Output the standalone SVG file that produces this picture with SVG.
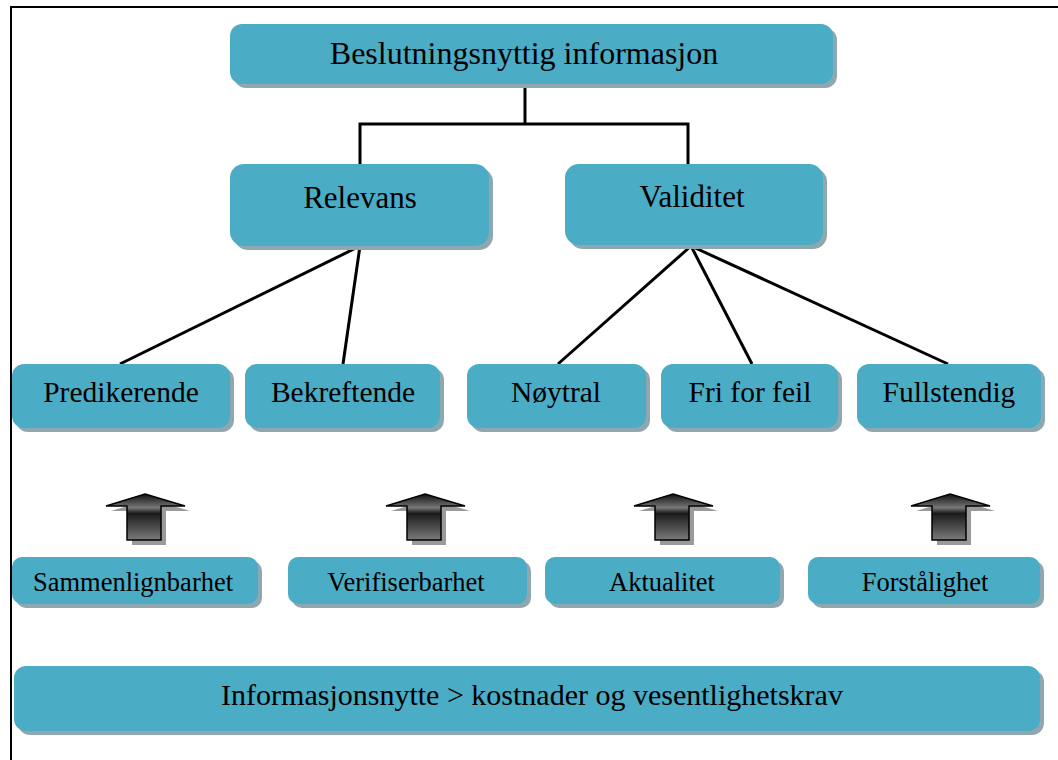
<svg xmlns="http://www.w3.org/2000/svg" width="1058" height="760" viewBox="0 0 1058 760">
<defs>
<style>
.box{fill:#4bacc6}
.sh{fill:#8fa8af}
.t{font-family:"Liberation Serif","Times New Roman",serif;fill:#000;text-anchor:middle}
.c{stroke:#000;stroke-width:3;fill:none}
.ar{fill:url(#ag);stroke:#000;stroke-width:1.5}
.ash{fill:#9a9a9a}
</style>
<linearGradient id="ag" x1="0" y1="0" x2="0" y2="1">
<stop offset="0" stop-color="#111"/>
<stop offset="0.3" stop-color="#777"/>
<stop offset="0.42" stop-color="#1a1a1a"/>
<stop offset="1" stop-color="#7a7a7a"/>
</linearGradient>
</defs>
<rect width="1058" height="760" fill="#fff"/>
<g id="frame">
<line x1="10" y1="7" x2="1058" y2="7" stroke="#000" stroke-width="2"/>
<line x1="11" y1="6" x2="11" y2="760" stroke="#000" stroke-width="2"/>
</g>
<g id="connectors">
<polyline class="c" points="525,84 525,124"/>
<polyline class="c" points="360,164 360,124 688,124 688,164"/>
<line class="c" x1="360" y1="246" x2="120" y2="364"/>
<line class="c" x1="360" y1="246" x2="343" y2="364"/>
<line class="c" x1="691" y1="246" x2="558" y2="364"/>
<line class="c" x1="691" y1="246" x2="752" y2="364"/>
<line class="c" x1="691" y1="246" x2="948" y2="364"/>
</g>
<g id="n-top">
<rect class="sh" x="234" y="28" width="603" height="60" rx="12"/>
<rect class="box" x="230" y="24" width="603" height="60" rx="12"/>
<text class="t" x="524" y="64" font-size="32">Beslutningsnyttig informasjon</text>
</g>
<g id="n-relevans">
<rect class="sh" x="234" y="168" width="259" height="82" rx="14"/>
<rect class="box" x="230" y="164" width="259" height="82" rx="14"/>
<text class="t" x="360" y="208" font-size="31">Relevans</text>
</g>
<g id="n-validitet">
<rect class="sh" x="569" y="168" width="258" height="81" rx="14"/>
<rect class="box" x="565" y="164" width="258" height="81" rx="14"/>
<text class="t" x="692" y="207" font-size="31">Validitet</text>
</g>
<g id="n-predikerende">
<rect class="sh" x="16" y="368" width="218" height="64" rx="12"/>
<rect class="box" x="12" y="364" width="218" height="64" rx="12"/>
<text class="t" x="121" y="402" font-size="29.5">Predikerende</text>
</g>
<g id="n-bekreftende">
<rect class="sh" x="249" y="368" width="195" height="64" rx="12"/>
<rect class="box" x="245" y="364" width="195" height="64" rx="12"/>
<text class="t" x="343" y="402" font-size="29.5">Bekreftende</text>
</g>
<g id="n-noytral">
<rect class="sh" x="471" y="368" width="179" height="64" rx="12"/>
<rect class="box" x="467" y="364" width="179" height="64" rx="12"/>
<text class="t" x="556" y="402" font-size="29.5">Nøytral</text>
</g>
<g id="n-frifor">
<rect class="sh" x="665" y="368" width="177" height="64" rx="12"/>
<rect class="box" x="661" y="364" width="177" height="64" rx="12"/>
<text class="t" x="750" y="402" font-size="29.5">Fri for feil</text>
</g>
<g id="n-fullstendig">
<rect class="sh" x="861" y="368" width="184" height="64" rx="12"/>
<rect class="box" x="857" y="364" width="184" height="64" rx="12"/>
<text class="t" x="949" y="402" font-size="29.5">Fullstendig</text>
</g>
<g id="arrows">
<g transform="translate(145,0)">
<polygon class="ash" transform="translate(5,5)" points="0,494 40,506 16,506 16,540 -18,540 -18,506 -39,506"/>
<polygon class="ar" points="0,494 40,506 16,506 16,540 -18,540 -18,506 -39,506"/>
</g>
<g transform="translate(425,0)">
<polygon class="ash" transform="translate(5,5)" points="0,494 40,506 16,506 16,540 -18,540 -18,506 -39,506"/>
<polygon class="ar" points="0,494 40,506 16,506 16,540 -18,540 -18,506 -39,506"/>
</g>
<g transform="translate(673,0)">
<polygon class="ash" transform="translate(5,5)" points="0,494 40,506 16,506 16,540 -18,540 -18,506 -39,506"/>
<polygon class="ar" points="0,494 40,506 16,506 16,540 -18,540 -18,506 -39,506"/>
</g>
<g transform="translate(950,0)">
<polygon class="ash" transform="translate(5,5)" points="0,494 40,506 16,506 16,540 -18,540 -18,506 -39,506"/>
<polygon class="ar" points="0,494 40,506 16,506 16,540 -18,540 -18,506 -39,506"/>
</g>
</g>
<g id="n-sammenlign">
<rect class="sh" x="16" y="561" width="246" height="47" rx="10"/>
<rect class="box" x="12" y="557" width="246" height="47" rx="10"/>
<text class="t" x="133" y="591" font-size="26.5">Sammenlignbarhet</text>
</g>
<g id="n-verifiser">
<rect class="sh" x="292" y="561" width="239" height="47" rx="10"/>
<rect class="box" x="288" y="557" width="239" height="47" rx="10"/>
<text class="t" x="406" y="591" font-size="26.5">Verifiserbarhet</text>
</g>
<g id="n-aktualitet">
<rect class="sh" x="549" y="561" width="235" height="47" rx="10"/>
<rect class="box" x="545" y="557" width="235" height="47" rx="10"/>
<text class="t" x="662" y="591" font-size="26.5">Aktualitet</text>
</g>
<g id="n-forstaelighet">
<rect class="sh" x="812" y="561" width="232" height="47" rx="10"/>
<rect class="box" x="808" y="557" width="232" height="47" rx="10"/>
<text class="t" x="925" y="591" font-size="26.5">Forstålighet</text>
</g>
<g id="n-bottom">
<rect class="sh" x="18" y="670" width="1026" height="65" rx="12"/>
<rect class="box" x="14" y="666" width="1026" height="65" rx="12"/>
<text class="t" x="532" y="705" font-size="30">Informasjonsnytte &gt; kostnader og vesentlighetskrav</text>
</g>
</svg>
